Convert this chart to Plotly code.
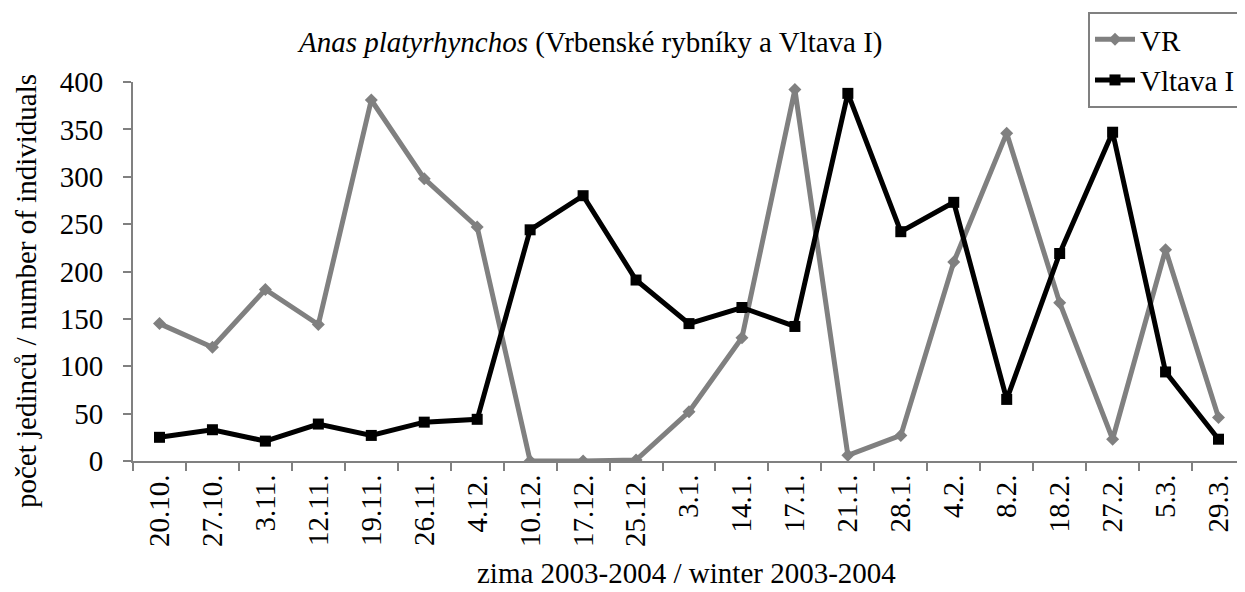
import plotly.graph_objects as go

dates = ["20.10.", "27.10.", "3.11.", "12.11.", "19.11.", "26.11.", "4.12.", "10.12.",
         "17.12.", "25.12.", "3.1.", "14.1.", "17.1.", "21.1.", "28.1.", "4.2.", "8.2.",
         "18.2.", "27.2.", "5.3.", "29.3."]
vr = [145, 120, 181, 144, 381, 298, 247, 0, 0, 1, 52, 130, 392, 6, 27, 210, 346, 167, 23, 223, 46]
vltava = [25, 33, 21, 39, 27, 41, 44, 244, 280, 191, 145, 162, 142, 388, 242, 273, 65, 219, 347, 94, 23]

FONT = "Liberation Serif, Times New Roman, serif"
GRAY = "#808080"
FS = 29

fig = go.Figure()
fig.add_trace(go.Scatter(
    x=dates, y=vr, name="VR", mode="lines+markers",
    line=dict(color=GRAY, width=5),
    marker=dict(symbol="diamond", size=10, color=GRAY),
))
fig.add_trace(go.Scatter(
    x=dates, y=vltava, name="Vltava I", mode="lines+markers",
    line=dict(color="black", width=5),
    marker=dict(symbol="square", size=11, color="black"),
))

# the page body has an 8px default margin, so the figure is 8px smaller on each axis
fig.update_layout(
    width=1237, height=584,
    margin=dict(l=125, r=0, t=74, b=131, autoexpand=False),
    paper_bgcolor="white", plot_bgcolor="white",
    font=dict(family=FONT, color="black", size=FS),
    showlegend=True,
    legend=dict(
        x=0.9973, xanchor="right", y=1.185, yanchor="top",
        bordercolor=GRAY, borderwidth=2, bgcolor="white",
        font=dict(family=FONT, size=FS, color="black"),
        itemwidth=40,
    ),
    annotations=[
        dict(text="<i>Anas platyrhynchos</i> (Vrbenské rybníky a Vltava I)",
             xref="paper", yref="paper", x=0.411, y=1.0, yshift=40,
             xanchor="center", yanchor="middle", showarrow=False,
             font=dict(family=FONT, size=FS, color="black")),
        dict(text="zima 2003-2004 / winter 2003-2004",
             xref="paper", yref="paper", x=0.498, y=-0.296,
             xanchor="center", yanchor="middle", showarrow=False,
             font=dict(family=FONT, size=FS, color="black")),
        dict(text="počet jedinců / number of individuals",
             xref="paper", yref="paper", x=-0.0962, y=0.4485, textangle=-90,
             xanchor="center", yanchor="middle", showarrow=False,
             font=dict(family=FONT, size=FS, color="black")),
    ],
)

fig.update_xaxes(
    type="category", range=[-0.5, 20.5], automargin=False,
    showline=True, linecolor=GRAY, linewidth=2,
    ticks="outside", ticklen=8, tickcolor=GRAY, tickwidth=2,
    tickson="boundaries",
    tickangle=-90, tickfont=dict(family=FONT, size=FS),
    showgrid=False, zeroline=False,
)
fig.update_yaxes(
    range=[0, 400], tickvals=[0, 50, 100, 150, 200, 250, 300, 350, 400], automargin=False,
    showline=True, linecolor=GRAY, linewidth=2,
    ticks="outside", ticklen=8, tickcolor=GRAY, tickwidth=2,
    ticklabelstandoff=14,
    tickfont=dict(family=FONT, size=FS),
    showgrid=False, zeroline=False,
)

fig.write_html("out.html")
